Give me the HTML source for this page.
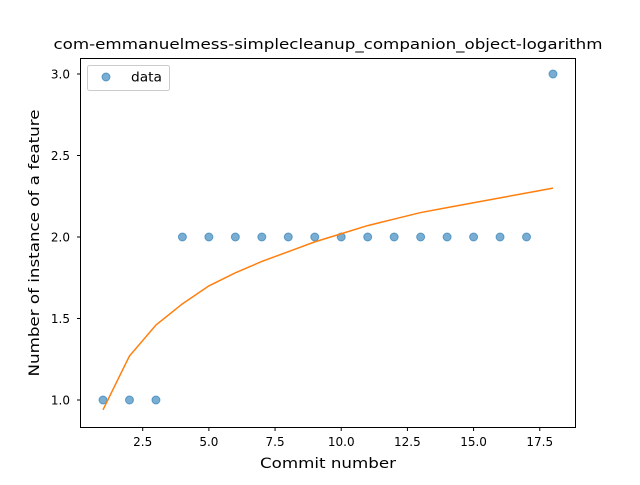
<!DOCTYPE html>
<html><head><meta charset="utf-8"><style>body{margin:0;background:#fff}svg{font-family:"DejaVu Sans","Liberation Sans",sans-serif}</style></head>
<body>
<svg id="chart" width="640" height="480" xmlns="http://www.w3.org/2000/svg">
<rect width="640" height="480" fill="#fff"/>
<text x="328" y="49" font-size="14" text-anchor="middle" textLength="549" lengthAdjust="spacingAndGlyphs">com-emmanuelmess-simplecleanup_companion_object-logarithm</text>
<g id="marks"></g>
<rect x="80.5" y="58.5" width="495" height="369" fill="none" stroke="#000" stroke-width="1"/>
<g id="xt"></g><g id="yt"></g>
<text x="328" y="468" font-size="14" text-anchor="middle" textLength="136" lengthAdjust="spacingAndGlyphs">Commit number</text>
<text transform="translate(39,243) rotate(-90)" font-size="14" text-anchor="middle" textLength="267" lengthAdjust="spacingAndGlyphs">Number of instance of a feature</text>
<g>
<rect x="87.5" y="65.5" width="82" height="25" rx="2" fill="#fff" stroke="#ccc"/>
<circle cx="106" cy="77" r="4" fill="#1f77b4" fill-opacity="0.6" stroke="#1f77b4" stroke-opacity="0.6"/>
<text x="131" y="81.5" font-size="13" textLength="31" lengthAdjust="spacingAndGlyphs">data</text>
</g>
</svg>
<script>
const commits=[1,2,3,4,5,6,7,8,9,10,11,12,13,14,15,16,17,18];
const counts=[1,1,1,2,2,2,2,2,2,2,2,2,2,2,2,2,2,3];
const fitValues=[0.94,1.27,1.46,1.59,1.70,1.78,1.85,1.91,1.97,2.02,2.07,2.11,2.15,2.18,2.21,2.24,2.27,2.30];
const xTicks=[2.5,5.0,7.5,10.0,12.5,15.0,17.5];
const yTicks=[1.0,1.5,2.0,2.5,3.0];
const NS="http://www.w3.org/2000/svg";
const X=v=>103+(v-1)*26.47, Y=v=>400-(v-1)*163;
const marks=document.getElementById('marks');
commits.forEach((c,i)=>{const e=document.createElementNS(NS,'circle');
e.setAttribute('cx',X(c));e.setAttribute('cy',Y(counts[i]));e.setAttribute('r',4);
e.setAttribute('fill','#1f77b4');e.setAttribute('fill-opacity','0.6');e.setAttribute('stroke','#1f77b4');e.setAttribute('stroke-opacity','0.6');


marks.appendChild(e);});
const pl=document.createElementNS(NS,'polyline');
pl.setAttribute('points',commits.map((c,i)=>X(c)+','+Y(fitValues[i])).join(' '));
pl.setAttribute('fill','none');pl.setAttribute('stroke','#ff7f0e');pl.setAttribute('stroke-width','1.5');


marks.appendChild(pl);
const xt=document.getElementById('xt');
xTicks.forEach(t=>{const x=X(t);
const l=document.createElementNS(NS,'line');l.setAttribute('x1',x);l.setAttribute('x2',x);l.setAttribute('y1',427.5);l.setAttribute('y2',431);l.setAttribute('stroke','#000');


xt.appendChild(l);
const s=document.createElementNS(NS,'text');s.setAttribute('x',x);s.setAttribute('y',446);s.setAttribute('font-size','12');s.setAttribute('text-anchor','middle');s.textContent=t.toFixed(1);


xt.appendChild(s);});
const yt=document.getElementById('yt');
yTicks.forEach(t=>{const y=Y(t);
const l=document.createElementNS(NS,'line');l.setAttribute('x1',77);l.setAttribute('x2',80.5);l.setAttribute('y1',y);l.setAttribute('y2',y);l.setAttribute('stroke','#000');


yt.appendChild(l);
const s=document.createElementNS(NS,'text');s.setAttribute('x',70);s.setAttribute('y',y+4.5);s.setAttribute('font-size','12');s.setAttribute('text-anchor','end');s.textContent=t.toFixed(1);


yt.appendChild(s);});
</script>
</body></html>
